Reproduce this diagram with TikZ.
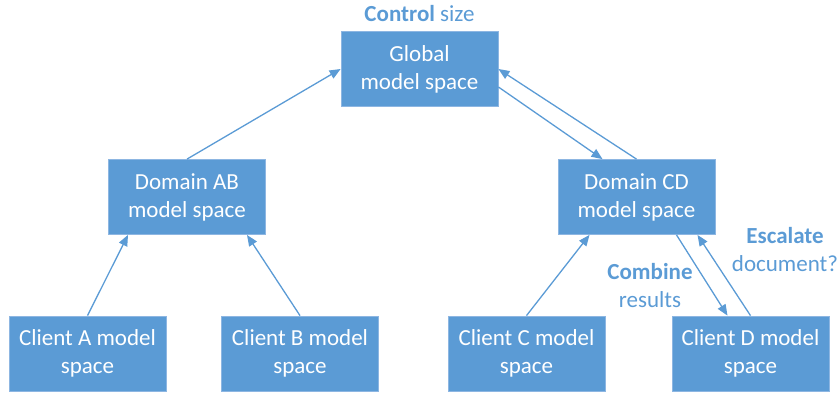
\documentclass[tikz,border=0pt]{standalone}
\usepackage{fontspec}
\setmainfont{Carlito}
\usetikzlibrary{arrows.meta}
\definecolor{boxblue}{HTML}{5B9BD5}
\definecolor{rimblue}{HTML}{8DB6E2}
\tikzset{
    modelbox/.style={fill=boxblue, draw=rimblue, line width=0.8pt, text=white,
        minimum width=157pt, minimum height=75pt, inner sep=0pt, align=center,
        font=\fontsize{23}{28}\selectfont, execute at begin node={\rule{0pt}{23pt}}},
    note/.style={text=boxblue, align=center, font=\fontsize{23}{28}\selectfont},
    link/.style={draw=boxblue, line width=1.3pt, -{Triangle[length=11pt,width=9pt]}}
}

\begin{document}
\begin{tikzpicture}[x=1pt,y=-1pt]
    \useasboundingbox (0,0) rectangle (840,397);
    \node[modelbox] (global) at (419.5,69) {Global\\model space};
    \node[modelbox] (domainAB) at (187,197) {Domain AB\\model space};
    \node[modelbox] (domainCD) at (636.5,197) {Domain CD\\model space};
    \node[modelbox] (clientA) at (87.5,353.5) {Client A model\\space};
    \node[modelbox] (clientB) at (300,353.5) {Client B model\\space};
    \node[modelbox] (clientC) at (526.5,353.5) {Client C model\\space};
    \node[modelbox] (clientD) at (750.5,353.5) {Client D model\\space};
    \node[note] (ctrl) at (419.5,14) {\textbf{Control} size};
    \node[note] (escalate) at (785,249.5) {\textbf{Escalate}\\document?};
    \node[note] (combine) at (650,285.5) {\textbf{Combine}\\results};
    \draw[link] (domainAB.north) -- (global.west);
    \draw[link] (domainCD.north) -- (global.east);
    \draw[link] ([yshift=-18pt]global.east) -- ([xshift=-34pt]domainCD.north);
    \draw[link] (clientA.north) -- ([xshift=-59pt]domainAB.south);
    \draw[link] (clientB.north) -- ([xshift=60pt]domainAB.south);
    \draw[link] (clientC.north) -- ([xshift=-47pt]domainCD.south);
    \draw[link] ([xshift=40pt]domainCD.south) -- ([xshift=-23pt]clientD.north);
    \draw[link] (clientD.north) -- ([xshift=61pt]domainCD.south);
\end{tikzpicture}
\end{document}
